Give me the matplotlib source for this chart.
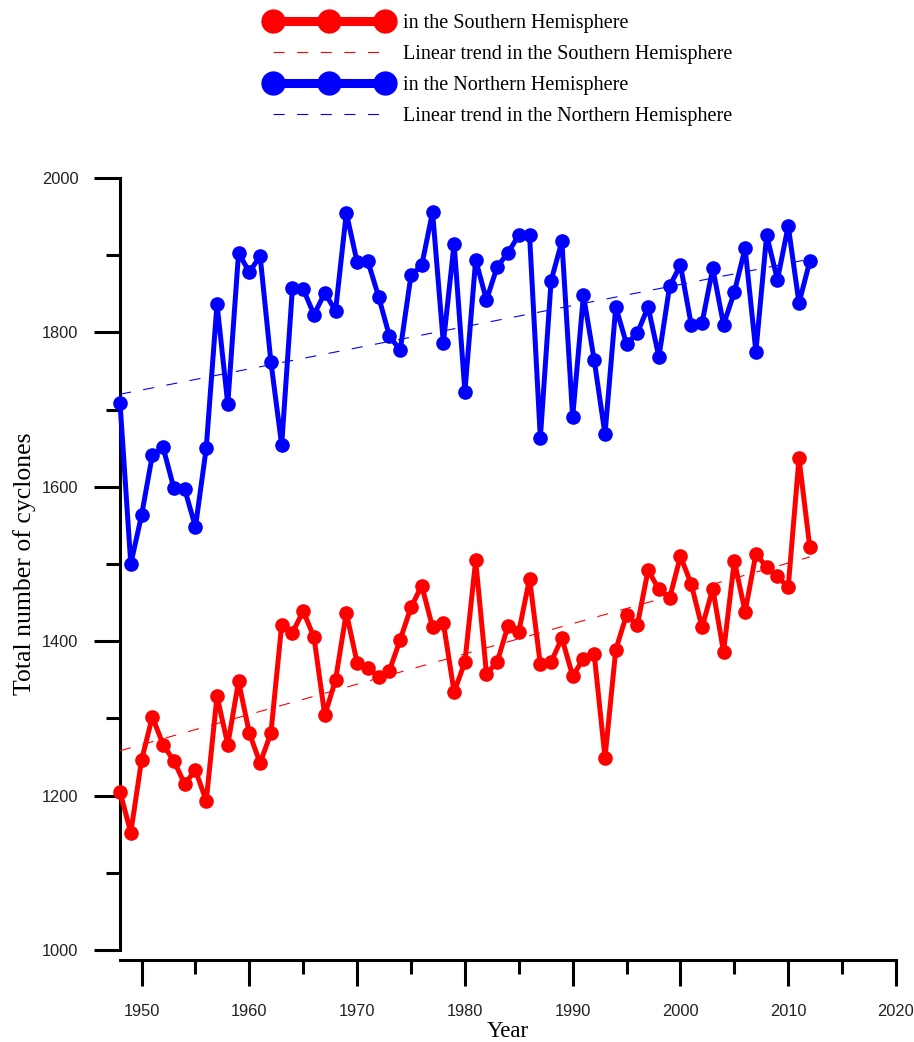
import numpy as np
import matplotlib
matplotlib.use("Agg")
import matplotlib.pyplot as plt
from matplotlib import font_manager
from matplotlib.lines import Line2D
from matplotlib.ticker import MultipleLocator

# Data
years = np.arange(1948, 2013)

northern = [
    1709, 1500, 1563, 1641, 1651, 1598, 1597, 1548, 1650, 1837,
    1707, 1903, 1878, 1899, 1762, 1654, 1858, 1856, 1823, 1851,
    1828, 1955, 1891, 1892, 1846, 1795, 1777, 1874, 1887, 1956,
    1786, 1915, 1723, 1894, 1842, 1885, 1903, 1926, 1926, 1663,
    1867, 1918, 1690, 1848, 1764, 1668, 1833, 1785, 1799, 1833,
    1768, 1860, 1887, 1810, 1812, 1883, 1810, 1852, 1909, 1775,
    1926, 1868, 1938, 1838, 1892,
]

southern = [
    1205, 1152, 1246, 1302, 1266, 1245, 1215, 1233, 1193, 1329,
    1266, 1348, 1281, 1242, 1281, 1421, 1411, 1439, 1405, 1304,
    1350, 1437, 1372, 1365, 1354, 1362, 1402, 1444, 1472, 1418,
    1424, 1334, 1373, 1505, 1358, 1373, 1420, 1412, 1481, 1370,
    1373, 1404, 1355, 1377, 1383, 1249, 1389, 1434, 1421, 1492,
    1467, 1456, 1510, 1474, 1418, 1468, 1386, 1504, 1438, 1513,
    1496, 1484, 1470, 1637, 1522,
]

labels = [
    "in the Southern Hemisphere",
    "Linear trend in the Southern Hemisphere",
    "in the Northern Hemisphere",
    "Linear trend in the Northern Hemisphere",
]

RED = "#ff0000"
BLUE = "#0000ff"

installed = {f.name for f in font_manager.fontManager.ttflist}
tick_font = "Liberation Sans Narrow" if "Liberation Sans Narrow" in installed else "Liberation Sans"
serif_font = ["Liberation Serif", "DejaVu Serif"]

plt.rcParams["lines.scale_dashes"] = False

fig = plt.figure(figsize=(9.14, 10.42), dpi=100)
ax = fig.add_axes((0.1313, 0.0883, 0.849, 0.7409))

# linear trends
red_fit = np.polyfit(years, southern, 1)
blue_fit = np.polyfit(years, northern, 1)

ax.plot(years, southern, "-o", color=RED, lw=3.6, ms=9.5, zorder=3, clip_on=False)
ax.plot(years, northern, "-o", color=BLUE, lw=3.6, ms=9.5, zorder=3, clip_on=False)
ax.plot(years, np.polyval(red_fit, years), color=RED, lw=0.8, dashes=(8, 9), zorder=4)
ax.plot(years, np.polyval(blue_fit, years), color=BLUE, lw=0.8, dashes=(8, 9), zorder=4)

ax.set_xlim(1948, 2020)
ax.set_ylim(1000, 2000)

for side in ("top", "right"):
    ax.spines[side].set_visible(False)
ax.spines["left"].set_linewidth(2.2)
ax.spines["bottom"].set_linewidth(2.2)
ax.spines["bottom"].set_position(("outward", 7.5))
ax.spines["left"].set_bounds(1000, 2000)
ax.spines["bottom"].set_bounds(1948, 2020)

ax.xaxis.set_major_locator(MultipleLocator(10))
ax.xaxis.set_minor_locator(MultipleLocator(5))
ax.yaxis.set_major_locator(MultipleLocator(200))
ax.yaxis.set_minor_locator(MultipleLocator(100))
ax.tick_params(axis="both", which="major", length=19, width=2.2, color="black")
ax.tick_params(axis="both", which="minor", length=10, width=2.2, color="black")
ax.tick_params(axis="y", which="major", pad=11)
ax.tick_params(axis="x", which="major", pad=12.5)
tick_size = 13.5 if tick_font.endswith("Narrow") else 11.8
for lab in ax.get_xticklabels() + ax.get_yticklabels():
    lab.set_fontfamily(tick_font)
    lab.set_fontsize(tick_size)
    lab.set_color("#222222")

ax.set_xlabel("Year", fontsize=16.5, family=serif_font, labelpad=1.5)
ax.set_ylabel("Total number of cyclones", fontsize=18.5, family=serif_font, labelpad=4)

handles = [
    Line2D([], [], color=RED, lw=6.5, marker="o", ms=16.5),
    Line2D([], [], color=RED, lw=0.8, dashes=(8, 9)),
    Line2D([], [], color=BLUE, lw=6.5, marker="o", ms=16.5),
    Line2D([], [], color=BLUE, lw=0.8, dashes=(8, 9)),
]
fig.legend(
    handles,
    labels,
    loc="upper left",
    bbox_to_anchor=(0.292, 0.987),
    frameon=False,
    numpoints=3,
    handlelength=6.15,
    handletextpad=0.6,
    labelspacing=0.6,
    borderpad=0,
    borderaxespad=0,
    prop={"family": serif_font, "size": 14.5},
)

fig.savefig("out.png", dpi=100)
